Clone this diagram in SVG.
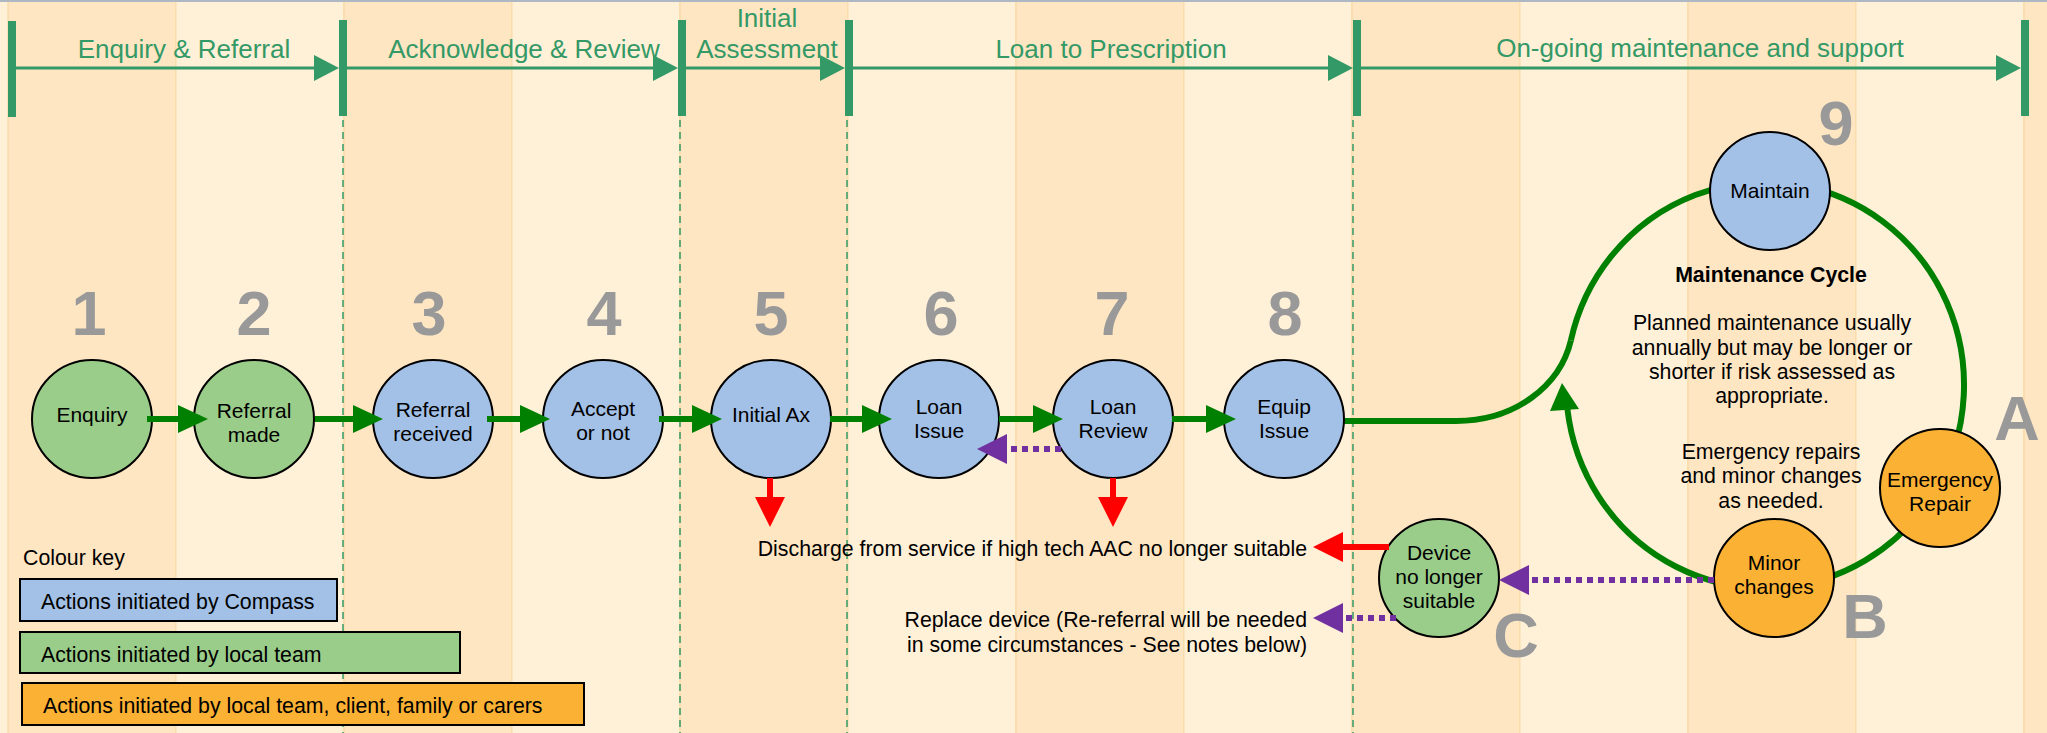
<svg xmlns="http://www.w3.org/2000/svg" width="2047" height="733" viewBox="0 0 2047 733">
<defs>
<style>
text{font-family:"Liberation Sans",Arial,sans-serif}
.ph{fill:#339966;font-size:26px;text-anchor:middle}
.num{fill:#999999;font-size:63px;font-weight:bold;text-anchor:middle}
.lbl{fill:#000;font-size:21px;text-anchor:middle}
.txt{fill:#000;font-size:21.3px}
.end{text-anchor:end}
.mid{text-anchor:middle}
.b{font-weight:bold}
.blue{fill:#A3C1E7;stroke:#000;stroke-width:2}
.green{fill:#9BCD8A;stroke:#000;stroke-width:2}
.orange{fill:#FBB134;stroke:#000;stroke-width:2}
.dk{fill:#FEE6C3;stroke:#F8D9A3;stroke-width:1.2}
.lt{fill:#FFF0D8;stroke:#F8DCAA;stroke-width:1}
.dash{stroke:#339966;stroke-width:1.5;stroke-dasharray:7 5;fill:none}
.bar{fill:#339966}
.pa{stroke:#339966;stroke-width:3;fill:none;marker-end:url(#mph)}
.ga{stroke:#008000;stroke-width:6;fill:none;marker-end:url(#mg)}
.ra{stroke:#FF0000;stroke-width:6;fill:none;marker-end:url(#mr)}
.pu{stroke:#7030A0;stroke-width:6;stroke-dasharray:6 5;fill:none;marker-end:url(#mp)}
.cyc{stroke:#008000;stroke-width:6;fill:none}
</style>
<marker id="mph" markerUnits="userSpaceOnUse" markerWidth="25" markerHeight="26" refX="3" refY="13" orient="auto"><path d="M0,0 L25,13 L0,26 Z" fill="#339966"/></marker>
<marker id="mg" markerUnits="userSpaceOnUse" markerWidth="30" markerHeight="28" refX="4" refY="14" orient="auto"><path d="M0,0 L30,14 L0,28 Z" fill="#008000"/></marker>
<marker id="mr" markerUnits="userSpaceOnUse" markerWidth="30" markerHeight="30" refX="4" refY="15" orient="auto"><path d="M0,0 L30,15 L0,30 Z" fill="#FF0000"/></marker>
<marker id="mp" markerUnits="userSpaceOnUse" markerWidth="30" markerHeight="30" refX="4" refY="15" orient="auto"><path d="M0,0 L30,15 L0,30 Z" fill="#7030A0"/></marker>
</defs>

<g id="background">
<rect x="0" y="0" width="2047" height="733" fill="#FFF0D8"/>
<rect class="dk" x="8" y="-2" width="168" height="740"/>
<rect class="lt" x="176" y="-2" width="168" height="740"/>
<rect class="dk" x="344" y="-2" width="168" height="740"/>
<rect class="lt" x="512" y="-2" width="168" height="740"/>
<rect class="dk" x="680" y="-2" width="168" height="740"/>
<rect class="lt" x="848" y="-2" width="168" height="740"/>
<rect class="dk" x="1016" y="-2" width="168" height="740"/>
<rect class="lt" x="1184" y="-2" width="168" height="740"/>
<rect class="dk" x="1352" y="-2" width="168" height="740"/>
<rect class="lt" x="1520" y="-2" width="168" height="740"/>
<rect class="dk" x="1688" y="-2" width="168" height="740"/>
<rect class="lt" x="1856" y="-2" width="168" height="740"/>
<rect class="dk" x="2024" y="-2" width="30" height="740"/>
<rect x="0" y="0" width="2047" height="2" fill="#AEB8C4"/>
</g>

<g id="phase-dividers">
<line class="dash" x1="343" y1="120" x2="343" y2="733"/>
<line class="dash" x1="680" y1="120" x2="680" y2="733"/>
<line class="dash" x1="847" y1="120" x2="847" y2="733"/>
<line class="dash" x1="1353" y1="120" x2="1353" y2="733"/>
</g>

<g id="phases">
<rect class="bar" x="8" y="21" width="8" height="96"/>
<rect class="bar" x="339" y="20" width="8" height="96"/>
<rect class="bar" x="678" y="20" width="8" height="96"/>
<rect class="bar" x="845" y="20" width="8" height="96"/>
<rect class="bar" x="1353" y="20" width="8" height="96"/>
<rect class="bar" x="2021" y="20" width="8" height="96"/>
<line class="pa" x1="16" y1="68" x2="317" y2="68"/>
<line class="pa" x1="347" y1="68" x2="656" y2="68"/>
<line class="pa" x1="686" y1="68" x2="823" y2="68"/>
<line class="pa" x1="853" y1="68" x2="1331" y2="68"/>
<line class="pa" x1="1361" y1="68" x2="1999" y2="68"/>
<text class="ph" x="184" y="58">Enquiry &amp; Referral</text>
<text class="ph" x="524" y="58">Acknowledge &amp; Review</text>
<text class="ph" x="767" y="27">Initial</text>
<text class="ph" x="767" y="58">Assessment</text>
<text class="ph" x="1111" y="58">Loan to Prescription</text>
<text class="ph" x="1700" y="57">On-going maintenance and support</text>
</g>

<g id="cycle-loop">
<path class="cyc" d="M1344,421 L1456,421 C1515,421 1560,386 1570.9,340.4"/>
<path class="cyc" d="M1570.9,340.4 A199,203 0 1 1 1567.4,409"/>
<polygon points="1562,383 1579,409 1550,411" fill="#008000"/>
</g>

<g id="node-1">
<text class="num" x="89" y="335">1</text>
<ellipse class="green" cx="92" cy="419" rx="60" ry="59"/>
<text class="lbl" x="92" y="422">Enquiry</text>
</g>
<g id="node-2">
<text class="num" x="254" y="335">2</text>
<ellipse class="green" cx="254" cy="419" rx="60" ry="59"/>
<text class="lbl" x="254" y="418">Referral</text>
<text class="lbl" x="254" y="442">made</text>
</g>
<g id="node-3">
<text class="num" x="429" y="335">3</text>
<ellipse class="blue" cx="433" cy="419" rx="60" ry="59"/>
<text class="lbl" x="433" y="417">Referral</text>
<text class="lbl" x="433" y="441">received</text>
</g>
<g id="node-4">
<text class="num" x="604" y="335">4</text>
<ellipse class="blue" cx="603" cy="419" rx="60" ry="59"/>
<text class="lbl" x="603" y="416">Accept</text>
<text class="lbl" x="603" y="440">or not</text>
</g>
<g id="node-5">
<text class="num" x="771" y="335">5</text>
<ellipse class="blue" cx="771" cy="419" rx="60" ry="59"/>
<text class="lbl" x="771" y="422">Initial Ax</text>
</g>
<g id="node-6">
<text class="num" x="941" y="335">6</text>
<ellipse class="blue" cx="939" cy="419" rx="60" ry="59"/>
<text class="lbl" x="939" y="414">Loan</text>
<text class="lbl" x="939" y="438">Issue</text>
</g>
<g id="node-7">
<text class="num" x="1112" y="335">7</text>
<ellipse class="blue" cx="1113" cy="419" rx="60" ry="59"/>
<text class="lbl" x="1113" y="414">Loan</text>
<text class="lbl" x="1113" y="438">Review</text>
</g>
<g id="node-8">
<text class="num" x="1285" y="335">8</text>
<ellipse class="blue" cx="1284" cy="419" rx="60" ry="59"/>
<text class="lbl" x="1284" y="414">Equip</text>
<text class="lbl" x="1284" y="438">Issue</text>
</g>
<g id="node-maintain">
<text class="num" x="1836" y="145">9</text>
<ellipse class="blue" cx="1770" cy="191" rx="60" ry="59"/>
<text class="lbl" x="1770" y="198">Maintain</text>
</g>
<g id="node-emergency-repair">
<text class="num" x="2017" y="440">A</text>
<ellipse class="orange" cx="1940" cy="488" rx="60" ry="59"/>
<text class="lbl" x="1940" y="487">Emergency</text>
<text class="lbl" x="1940" y="511">Repair</text>
</g>
<g id="node-minor-changes">
<text class="num" x="1865" y="638">B</text>
<ellipse class="orange" cx="1774" cy="578" rx="60" ry="59"/>
<text class="lbl" x="1774" y="570">Minor</text>
<text class="lbl" x="1774" y="594">changes</text>
</g>
<g id="node-device">
<text class="num" x="1516" y="657">C</text>
<ellipse class="green" cx="1439" cy="578" rx="60" ry="59"/>
<text class="lbl" x="1439" y="560">Device</text>
<text class="lbl" x="1439" y="584">no longer</text>
<text class="lbl" x="1439" y="608">suitable</text>
</g>

<g id="cycle-notes">
<text class="txt mid b" x="1771" y="282">Maintenance Cycle</text>
<text class="txt mid" x="1772" y="330">Planned maintenance usually</text>
<text class="txt mid" x="1772" y="355">annually but may be longer or</text>
<text class="txt mid" x="1772" y="379">shorter if risk assessed as</text>
<text class="txt mid" x="1772" y="403">appropriate.</text>
<text class="txt mid" x="1771" y="459">Emergency repairs</text>
<text class="txt mid" x="1771" y="483">and minor changes</text>
<text class="txt mid" x="1771" y="508">as needed.</text>
</g>

<g id="outcome-discharge">
<text class="txt end" x="1307" y="556">Discharge from service if high tech AAC no longer suitable</text>
</g>
<g id="outcome-replace">
<text class="txt end" x="1307" y="627">Replace device (Re-referral will be needed</text>
<text class="txt end" x="1307" y="652">in some circumstances - See notes below)</text>
</g>

<g id="connectors">
<line class="ga" x1="147" y1="419" x2="182" y2="419"/>
<line class="ga" x1="315" y1="419" x2="357" y2="419"/>
<line class="ga" x1="487" y1="419" x2="524" y2="419"/>
<line class="ga" x1="659" y1="419" x2="696" y2="419"/>
<line class="ga" x1="830" y1="419" x2="866" y2="419"/>
<line class="ga" x1="999" y1="419" x2="1037" y2="419"/>
<line class="ga" x1="1172" y1="419" x2="1210" y2="419"/>
<line class="pu" x1="1061" y1="449" x2="1003" y2="449"/>
<line class="ra" x1="770" y1="478" x2="770" y2="501"/>
<line class="ra" x1="1113" y1="478" x2="1113" y2="501"/>
<line class="ra" x1="1389" y1="547" x2="1339" y2="547"/>
<line class="pu" x1="1396" y1="618" x2="1339" y2="618"/>
<line class="pu" x1="1714" y1="580" x2="1525" y2="580"/>
</g>

<g id="colour-key">
<text class="txt" x="23" y="565">Colour key</text>
<rect class="blue" x="20" y="579" width="317" height="42"/>
<text class="txt" x="41" y="609">Actions initiated by Compass</text>
<rect class="green" x="20" y="632" width="440" height="41"/>
<text class="txt" x="41" y="662">Actions initiated by local team</text>
<rect class="orange" x="22" y="683" width="562" height="42"/>
<text class="txt" x="43" y="713">Actions initiated by local team, client, family or carers</text>
</g>
</svg>
